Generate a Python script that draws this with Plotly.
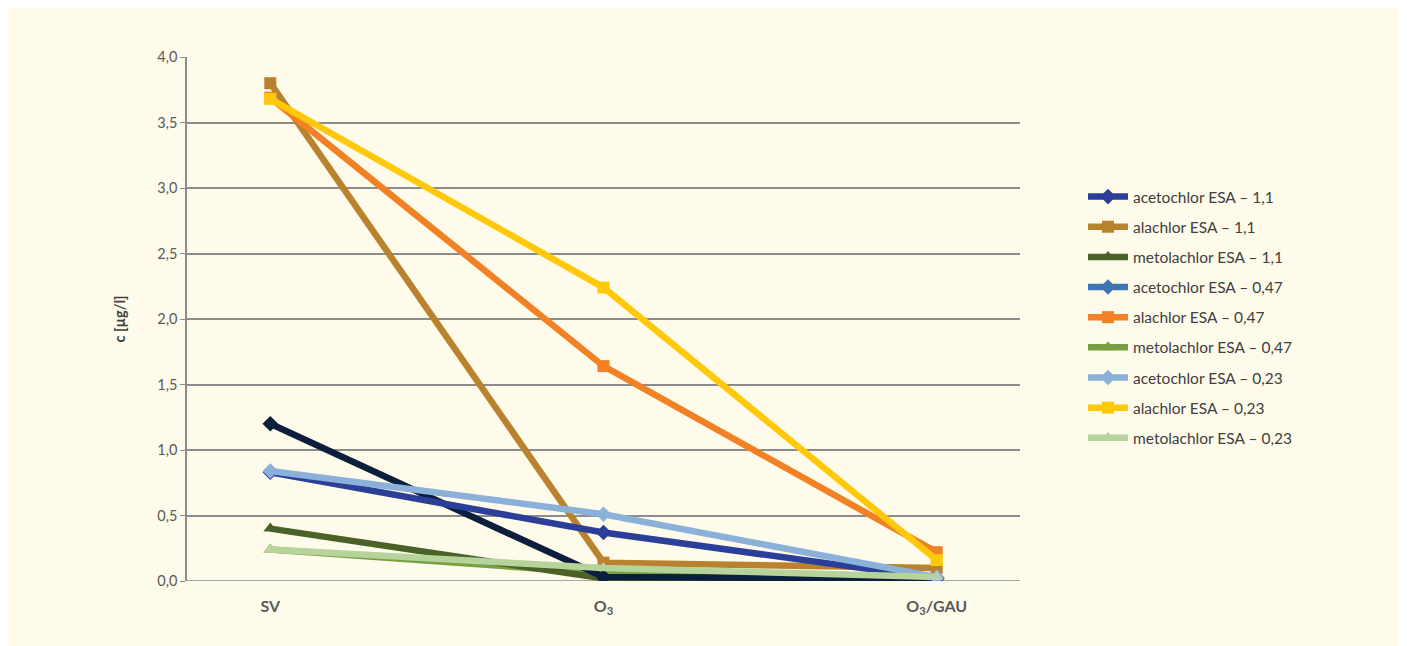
import plotly.graph_objects as go

categories = ["SV", "O3", "O3/GAU"]
tick_labels = ["<b>SV</b>", "<b>O<sub>3</sub></b>", "<b>O<sub>3</sub>/GAU</b>"]

series_names = [
    "acetochlor ESA – 1,1",
    "alachlor ESA – 1,1",
    "metolachlor ESA – 1,1",
    "acetochlor ESA – 0,47",
    "alachlor ESA – 0,47",
    "metolachlor ESA – 0,47",
    "acetochlor ESA – 0,23",
    "alachlor ESA – 0,23",
    "metolachlor ESA – 0,23",
]
acetochlor_11 = [0.83, 0.37, 0.02]
alachlor_11 = [3.80, 0.14, 0.10]
metolachlor_11 = [0.40, 0.02, 0.02]
acetochlor_047 = [1.20, 0.03, 0.02]
alachlor_047 = [3.69, 1.64, 0.22]
metolachlor_047 = [0.24, 0.06, 0.02]
acetochlor_023 = [0.84, 0.51, 0.03]
alachlor_023 = [3.68, 2.24, 0.16]
metolachlor_023 = [0.24, 0.10, 0.03]

values = [acetochlor_11, alachlor_11, metolachlor_11,
          acetochlor_047, alachlor_047, metolachlor_047,
          acetochlor_023, alachlor_023, metolachlor_023]
colors = ["#2B3F99", "#B8822F", "#4A6128",
          "#3E75B2", "#F28024", "#77A045",
          "#8BB0DA", "#FFC90A", "#B5D39B"]
line_colors = ["#2B3F99", "#B8822F", "#4A6128",
               "#0B1F3D", "#F28024", "#77A045",
               "#8BB0DA", "#FFC90A", "#B5D39B"]
symbols = ["diamond", "square", "triangle-up"] * 3

FONT = "Lato, 'Open Sans', sans-serif"

fig = go.Figure()
x_idx = list(range(len(categories)))

# draw order so that the picture layering matches
draw_order = [5, 2, 3, 1, 0, 6, 8, 4, 7]
for i in draw_order:
    same = line_colors[i] == colors[i]
    fig.add_trace(go.Scatter(
        x=x_idx, y=values[i], mode="lines+markers", name=series_names[i],
        line=dict(color=line_colors[i], width=6.5),
        marker=dict(symbol=symbols[i], size=12, color=line_colors[i]),
        showlegend=same, legendrank=i + 1, legendgroup="g%d" % i,
    ))
    if not same:
        fig.add_trace(go.Scatter(
            x=[None], y=[None], mode="lines+markers", name=series_names[i],
            line=dict(color=colors[i], width=6.5),
            marker=dict(symbol=symbols[i], size=12, color=colors[i]),
            legendrank=i + 1, legendgroup="g%d" % i,
        ))

# page is offset 8px by body margin; plot area in window: x 187..1020, y 57..581
W, H = 1399, 638
L, T = 187 - 8, 57 - 8
R = W - (1020 - 8)
B = H - (581 - 8)
pw, ph = W - L - R, H - T - B

fig.add_shape(type="rect", xref="paper", yref="paper",
              x0=-L / pw, x1=(W - L) / pw,
              y0=-B / ph, y1=(H - T - 2) / ph,
              fillcolor="#FFFBEA", line=dict(width=0), layer="below")

fig.update_layout(
    width=W, height=H,
    margin=dict(l=L, r=R, t=T, b=B),
    paper_bgcolor="#FFFFFF", plot_bgcolor="rgba(0,0,0,0)",
    font=dict(family=FONT, size=14, color="#404040"),
    legend=dict(x=(1083 - 187) / 833.0, y=(581 - 180) / 524.0,
                xanchor="left", yanchor="top",
                bgcolor="rgba(0,0,0,0)", font=dict(size=15.5, color="#404040"),
                tracegroupgap=7, itemwidth=40),
    xaxis=dict(range=[-0.25, 2.25], tickmode="array", tickvals=x_idx,
               ticktext=tick_labels, showgrid=False, zeroline=False,
               showline=False, ticks="", tickfont=dict(size=16, color="#595959"),
               ticklabelstandoff=14),
    yaxis=dict(range=[0, 4], dtick=0.5, tickformat=".1f",
               showgrid=True, gridcolor="#8C8C8C", gridwidth=1.5,
               zeroline=False, showline=True, linecolor="#8C8C8C", linewidth=1.5,
               ticks="outside", ticklen=5, tickcolor="#8C8C8C",
               tickfont=dict(size=14.5, color="#595959"),
               title=dict(text="<b>c [µg/l]</b>", standoff=28,
                          font=dict(size=14.5, color="#404040"))),
    separators=", ",
)
fig.add_hline(y=0, line=dict(color="#8C8C8C", width=1.5), layer="below")

fig.write_html("out.html")
